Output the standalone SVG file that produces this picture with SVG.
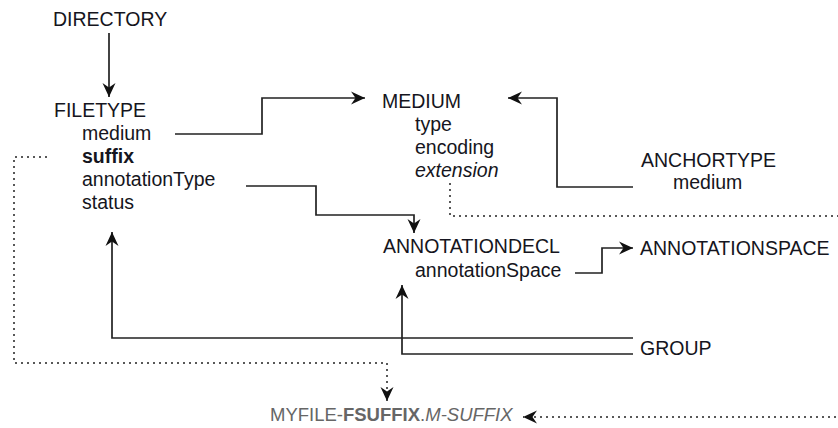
<svg xmlns="http://www.w3.org/2000/svg" width="838" height="428" viewBox="0 0 838 428">
<style>
text{font-family:"Liberation Sans",Arial,sans-serif;font-size:19.5px;fill:#151520}
.b{font-weight:bold}
.i{font-style:italic}
.g{fill:#666;font-size:18.5px}
.ln{fill:none;stroke:#222;stroke-width:1.7}
.dt{fill:none;stroke:#222;stroke-width:1.5;stroke-dasharray:2 4}
</style>
<defs>
<marker id="ah" viewBox="-15 -7 17 14" refX="0" refY="0" markerWidth="17" markerHeight="14" markerUnits="userSpaceOnUse" orient="auto">
<path d="M0,0 L-14,-6.5 L-9.5,0 L-14,6.5 Z" fill="#111"/>
</marker>
</defs>
<rect width="838" height="428" fill="#fff"/>
<g id="connectors">
<path class="ln" d="M109,33 V97" marker-end="url(#ah)"/>
<path class="ln" d="M175,134 H262 V98 H365" marker-end="url(#ah)"/>
<path class="ln" d="M633,187 H557 V98 H508" marker-end="url(#ah)"/>
<path class="ln" d="M246,186 H316 V215 H414 V233" marker-end="url(#ah)"/>
<path class="ln" d="M575,273 H602 V248 H633" marker-end="url(#ah)"/>
<path class="ln" d="M633,338 H112 V232" marker-end="url(#ah)"/>
<path class="ln" d="M633,354 H402 V285" marker-end="url(#ah)"/>
<path class="dt" d="M47,157 H14 V363 H387 V401" marker-end="url(#ah)"/>
<path class="dt" d="M450,183 V216 H850 V417 H523" marker-end="url(#ah)"/>
</g>
<g id="directory"><text x="53" y="26">DIRECTORY</text></g>
<g id="filetype">
<text x="54" y="117">FILETYPE</text>
<text x="82" y="140">medium</text>
<text x="82" y="163" class="b">suffix</text>
<text x="82" y="186">annotationType</text>
<text x="82" y="209">status</text>
</g>
<g id="medium">
<text x="382" y="108">MEDIUM</text>
<text x="415" y="131">type</text>
<text x="415" y="154">encoding</text>
<text x="415" y="177" class="i">extension</text>
</g>
<g id="anchortype">
<text x="641" y="167">ANCHORTYPE</text>
<text x="673" y="189">medium</text>
</g>
<g id="annotationdecl">
<text x="383" y="253">ANNOTATIONDECL</text>
<text x="415" y="277">annotationSpace</text>
</g>
<g id="annotationspace"><text x="640" y="255">ANNOTATIONSPACE</text></g>
<g id="group"><text x="640" y="355">GROUP</text></g>
<g id="myfile"><text x="270" y="421" class="g">MYFILE-<tspan class="b">FSUFFIX</tspan>.<tspan class="i">M-SUFFIX</tspan></text></g>
</svg>
